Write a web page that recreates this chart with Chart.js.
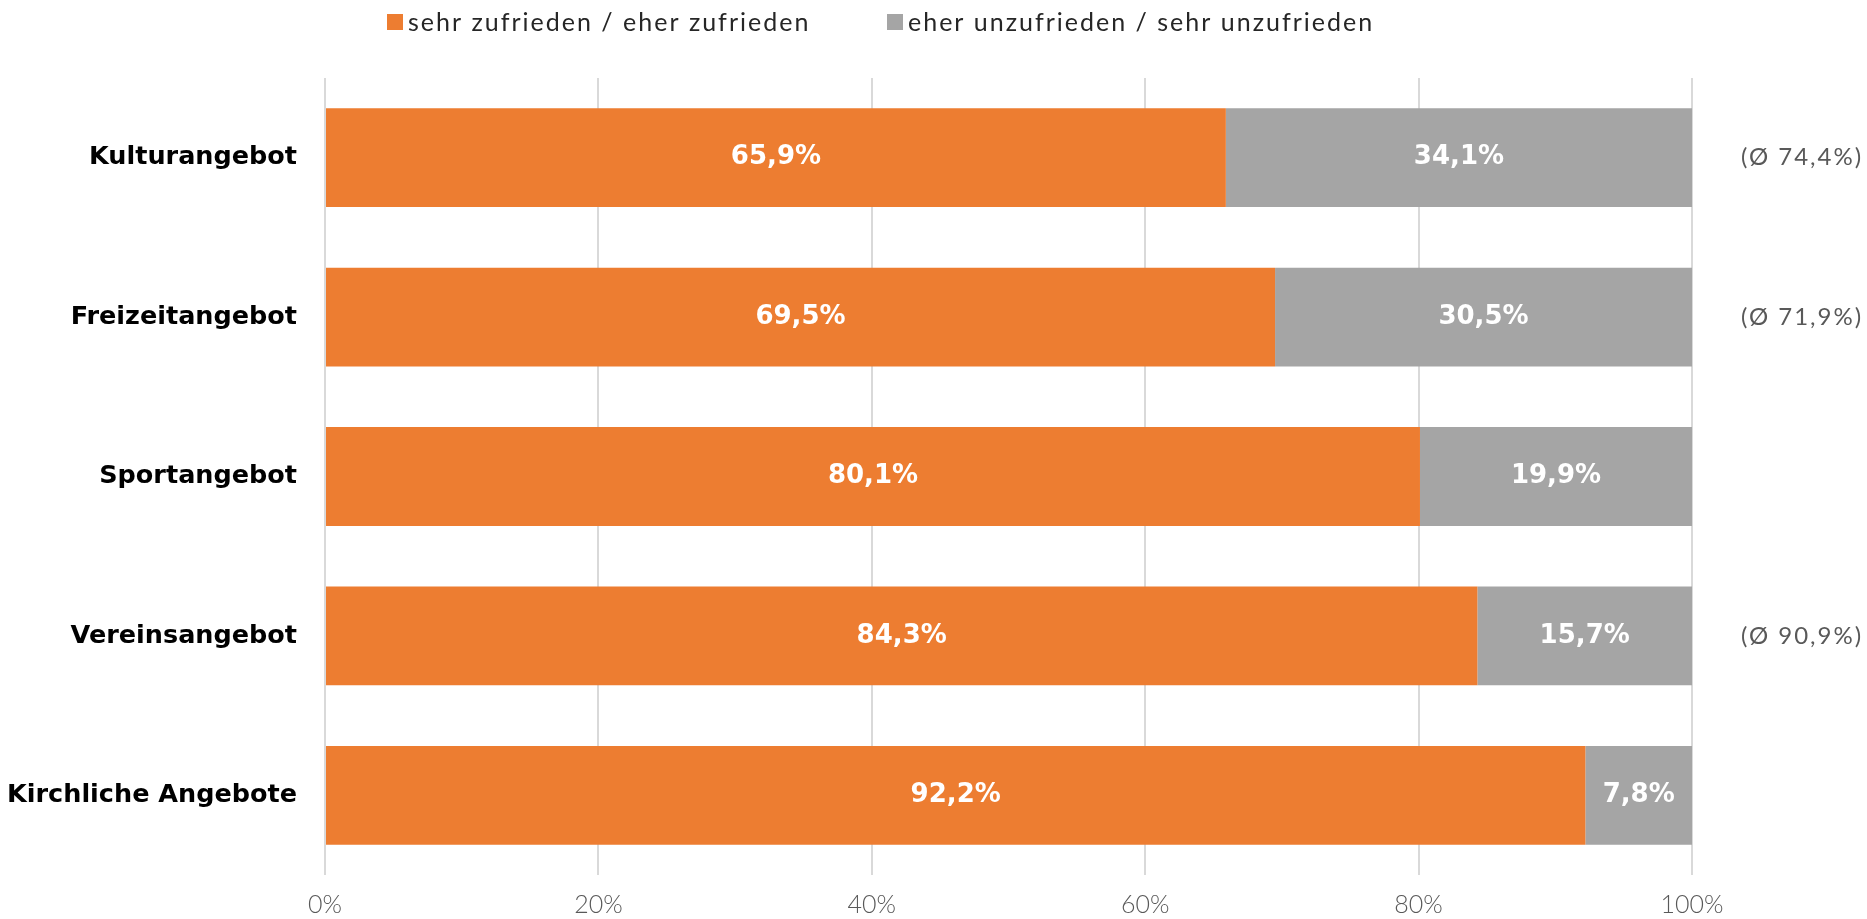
<!DOCTYPE html>
<html>
<head>
<meta charset="utf-8">
<script src="https://cdn.jsdelivr.net/npm/chart.js@4/dist/chart.umd.min.js"></script>
<style>
  html, body { margin: 0; padding: 0; background: #ffffff; }
  #wrap { width: 1867px; height: 919px; position: relative; }
</style>
</head>
<body>
<div id="wrap"><canvas id="chart" width="1867" height="919"></canvas></div>
<script>
// Satisfaction with leisure offerings (share of respondents, %)
const categories = ['Kulturangebot', 'Freizeitangebot', 'Sportangebot', 'Vereinsangebot', 'Kirchliche Angebote'];
const satisfied = [65.9, 69.5, 80.1, 84.3, 92.2];
const dissatisfied = [34.1, 30.5, 19.9, 15.7, 7.8];
// Comparison averages shown right of the bars (null = none)
const averages = [74.4, 71.9, null, 90.9, null];
const seriesNames = ['sehr zufrieden / eher zufrieden', 'eher unzufrieden / sehr unzufrieden'];
const seriesColors = ['#ED7D31', '#A5A5A5'];
const xTicks = [0, 20, 40, 60, 80, 100];

const FONT = 'Lato, "Open Sans", sans-serif';
const BOLD_FONT = '"DejaVu Sans", Lato, sans-serif';
const fmt = v => v.toFixed(1).replace('.', ',') + '%';

// Legend drawn at the top of the canvas
const legendPlugin = {
  id: 'topLegend',
  afterDraw(chart) {
    const ctx = chart.ctx;
    ctx.save();
    ctx.font = '400 25px ' + FONT;
    ctx.letterSpacing = '2px';
    ctx.textBaseline = 'middle';
    ctx.textAlign = 'left';
    const starts = [387, 887];
    chart.data.datasets.forEach((ds, i) => {
      const x = starts[i];
      ctx.fillStyle = ds.backgroundColor;
      ctx.fillRect(x, 14, 16, 16);
      ctx.fillStyle = '#262626';
      ctx.fillText(ds.label, x + 21, 23);
    });
    ctx.restore();
  }
};

// Value labels inside bars and averages on the right
const valuePlugin = {
  id: 'valueLabels',
  afterDatasetsDraw(chart) {
    const ctx = chart.ctx;
    ctx.save();
    ctx.font = '700 26px ' + BOLD_FONT;
    ctx.fillStyle = '#ffffff';
    ctx.textAlign = 'center';
    ctx.textBaseline = 'middle';
    chart.data.datasets.forEach((ds, di) => {
      chart.getDatasetMeta(di).data.forEach((bar, i) => {
        const cx = (bar.x + bar.base) / 2;
        ctx.fillText(fmt(ds.data[i]), cx, bar.y);
      });
    });
    ctx.font = '400 24px ' + FONT;
    ctx.letterSpacing = '2px';
    ctx.fillStyle = '#595959';
    ctx.textAlign = 'left';
    const meta = chart.getDatasetMeta(0);
    averages.forEach((a, i) => {
      if (a === null) return;
      ctx.fillText('(Ø ' + fmt(a) + ')', 1741, meta.data[i].y);
    });
    ctx.restore();
  }
};

new Chart(document.getElementById('chart'), {
  type: 'bar',
  data: {
    labels: categories,
    datasets: [
      { label: seriesNames[0], data: satisfied, backgroundColor: seriesColors[0] },
      { label: seriesNames[1], data: dissatisfied, backgroundColor: seriesColors[1] }
    ]
  },
  options: {
    indexAxis: 'y',
    responsive: false,
    animation: false,
    devicePixelRatio: 1,
    layout: { padding: { top: 78, right: 175, left: 0, bottom: 0 } },
    datasets: { bar: { categoryPercentage: 1, barPercentage: 0.62, borderWidth: 0 } },
    plugins: { legend: { display: false }, tooltip: { enabled: false } },
    scales: {
      x: {
        stacked: true,
        min: 0, max: 100,
        afterBuildTicks(scale) { scale.ticks = xTicks.map(v => ({ value: v })); },
        afterFit(scale) { scale.height = 44; },
        grid: { color: '#d9d9d9', lineWidth: 2, drawTicks: false },
        border: { display: false },
        ticks: {
          padding: 15,
          color: '#595959',
          font: { family: FONT, size: 25, weight: '300' },
          callback: v => v + '%'
        }
      },
      y: {
        stacked: true,
        afterFit(scale) { scale.width = 325; },
        grid: { display: false, drawTicks: false },
        border: { display: false },
        ticks: {
          padding: 28,
          color: '#000000',
          font: { family: BOLD_FONT, size: 25.5, weight: '700' }
        }
      }
    }
  },
  plugins: [legendPlugin, valuePlugin]
});
</script>
</body>
</html>
